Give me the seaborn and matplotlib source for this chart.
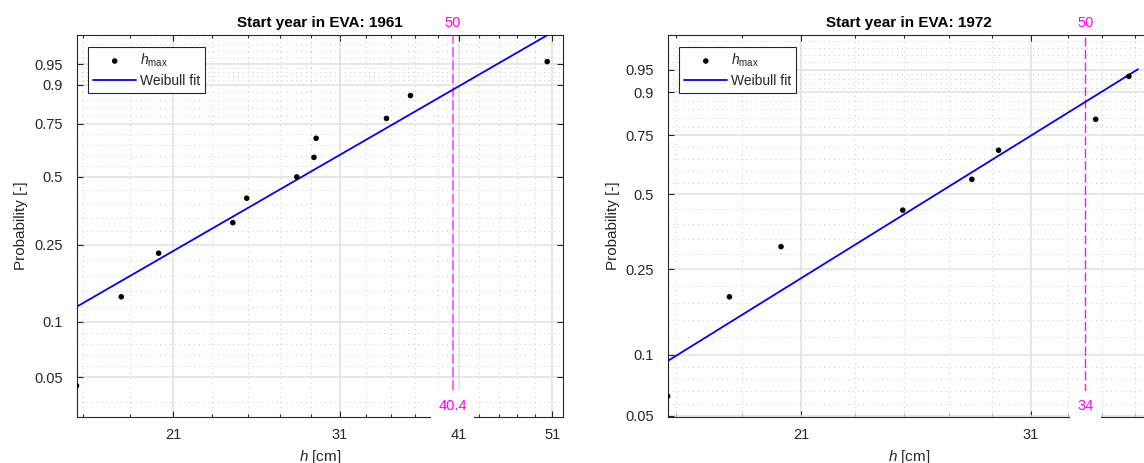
import numpy as np
import matplotlib
matplotlib.use('Agg')
import matplotlib.pyplot as plt
import matplotlib.transforms as mtransforms
import seaborn as sns

# %% data
h_1961 = [16.75, 18.6, 20.3, 24.15, 24.95, 28.05, 29.2, 29.35, 34.6, 36.6, 50.4]
p_1961 = [0.045, 0.136, 0.227, 0.318, 0.409, 0.5, 0.591, 0.682, 0.773, 0.864, 0.955]
h_1972 = [16.75, 18.6, 20.3, 24.95, 28.05, 29.35, 34.6, 36.6]
p_1972 = [0.0625, 0.1875, 0.3125, 0.4375, 0.5625, 0.6875, 0.8125, 0.9375]

# Weibull fit lines (end points, straight on probability paper)
fit_h_1961 = [16.75, 50.6]
fit_p_1961 = [0.1204, 0.988]
fit_h_1972 = [16.75, 37.17]
fit_p_1972 = [0.093, 0.951]

start_years = [1961, 1972]
return_period = '50'
return_levels = [40.4, 34]
return_labels = ['40.4', '34']

prob_ticks = [0.05, 0.1, 0.25, 0.5, 0.75, 0.9, 0.95]
prob_tick_labels = ['0.05', '0.1', '0.25', '0.5', '0.75', '0.9', '0.95']
prob_grid_ends = [0.01, 0.99]
h_ticks = [[21, 31, 41, 51], [21, 31]]
h_minor = [17, 19, 23, 25, 27, 29, 33, 35, 37, 39, 43, 45, 47, 49]

xlims = [(16.75, 52.3), (16.75, 38.0)]
ylims = [(0.0302, 0.9875), (0.0493, 0.989)]

# %% style
sns.set_style('ticks')
plt.rcParams['font.family'] = ['Liberation Sans', 'DejaVu Sans']
plt.rcParams['mathtext.fontset'] = 'custom'
plt.rcParams['mathtext.rm'] = 'Liberation Sans'
plt.rcParams['mathtext.it'] = 'Liberation Sans:italic'
dark = '#262626'


def wfwd(p):
    p = np.clip(np.asarray(p, dtype=float), 1e-12, 1 - 1e-12)
    return np.log(-np.log(1 - p))


def winv(w):
    return 1 - np.exp(-np.exp(np.asarray(w, dtype=float)))


# minor grid: each gap between probability ticks split in 5 on the Weibull scale
all_ticks = wfwd(sorted(prob_ticks + prob_grid_ends))
minor_w = []
for a, b in zip(all_ticks[:-1], all_ticks[1:]):
    minor_w.extend(np.linspace(a, b, 6)[1:-1])
prob_minor = list(winv(minor_w))

fig = plt.figure(figsize=(11.44, 4.63), dpi=100)
axes = [fig.add_axes([76.5 / 1144, 46 / 463, 486.5 / 1144, 382 / 463]),
        fig.add_axes([667.6 / 1144, 46 / 463, 483.4 / 1144, 382 / 463])]

datasets = [(h_1961, p_1961, fit_h_1961, fit_p_1961),
            (h_1972, p_1972, fit_h_1972, fit_p_1972)]
dash_styles = [dict(lw=1.5, alpha=0.6, dashes=(4.8, 1.6)),
               dict(lw=1.0, alpha=0.95, dashes=(6.5, 2.4))]

for i, ax in enumerate(axes):
    h, p, fh, fp = datasets[i]
    sns.lineplot(x=fh, y=fp, ax=ax, color='#0000ff', lw=1.3, label='Weibull fit',
                 zorder=4, sort=False)
    sns.scatterplot(x=h, y=p, ax=ax, color='k', s=16, edgecolor='none',
                    label=r'$h_{\mathrm{max}}$', zorder=5)

    ax.set_xscale('log')
    ax.set_yscale('function', functions=(wfwd, winv))

    ax.set_xticks(h_ticks[i])
    ax.set_xticklabels([str(t) for t in h_ticks[i]])
    ax.set_xticks(h_minor, minor=True)
    ax.xaxis.set_minor_formatter(matplotlib.ticker.NullFormatter())
    ax.set_yticks(prob_ticks)
    ax.set_yticklabels(prob_tick_labels)
    ax.set_yticks(prob_minor, minor=True)
    ax.yaxis.set_minor_formatter(matplotlib.ticker.NullFormatter())
    # limits after the ticks, set_ticks may widen the view
    ax.set_xlim(*xlims[i])
    ax.set_ylim(*ylims[i])

    ax.grid(which='major', color='#e3e3e3', lw=1.2, zorder=0)
    ax.grid(which='minor', color='#c8c8c8', lw=0.7, linestyle=(0, (1, 4)), zorder=0)
    ax.set_axisbelow(True)

    ax.tick_params(which='both', direction='in', top=True, right=True,
                   colors=dark, labelcolor=dark, width=0.8)
    ax.tick_params(which='major', length=4, labelsize=10.5)
    ax.tick_params(axis='y', which='major', pad=10)
    ax.tick_params(axis='x', which='major', pad=8)
    ax.tick_params(axis='x', which='minor', length=2.5)
    ax.tick_params(axis='y', which='minor', length=0)
    for s in ax.spines.values():
        s.set_color(dark)
        s.set_linewidth(0.8)

    ax.set_title(f'Start year in EVA: {start_years[i]}', fontsize=11,
                 fontweight='bold', pad=6, color='k')
    ax.set_xlabel(r'$h$ [cm]', fontsize=11, color=dark, labelpad=4)
    ax.set_ylabel('Probability [-]', fontsize=11, color=dark, labelpad=4)

    # return level line with labels
    rl = return_levels[i]
    ax.axvline(rl, color='#ff00ff', zorder=3, **dash_styles[i])
    trans = mtransforms.blended_transform_factory(ax.transData, ax.transAxes)
    ax.text(rl, 1.031, return_period, transform=trans, ha='center', va='center',
            color='#ff00ff', fontsize=10.5, clip_on=False)
    ax.text(rl, 0.03, return_labels[i], transform=trans, ha='center', va='center',
            color='#ff00ff', fontsize=10.5, clip_on=False, zorder=10,
            bbox=dict(boxstyle='square,pad=0.5', fc='white', ec='none'))

    handles, labels = ax.get_legend_handles_labels()
    order = [labels.index(r'$h_{\mathrm{max}}$'), labels.index('Weibull fit')]
    leg = ax.legend([handles[j] for j in order], [labels[j] for j in order],
                    loc='upper left', fontsize=10, borderaxespad=0.85,
                    handlelength=3.1, handletextpad=0.25, borderpad=0.35,
                    labelspacing=0.35, fancybox=False, framealpha=1)
    leg.get_frame().set_edgecolor(dark)
    leg.get_frame().set_linewidth(0.8)
    leg.set_zorder(20)

fig.savefig('out.png', dpi=100)
